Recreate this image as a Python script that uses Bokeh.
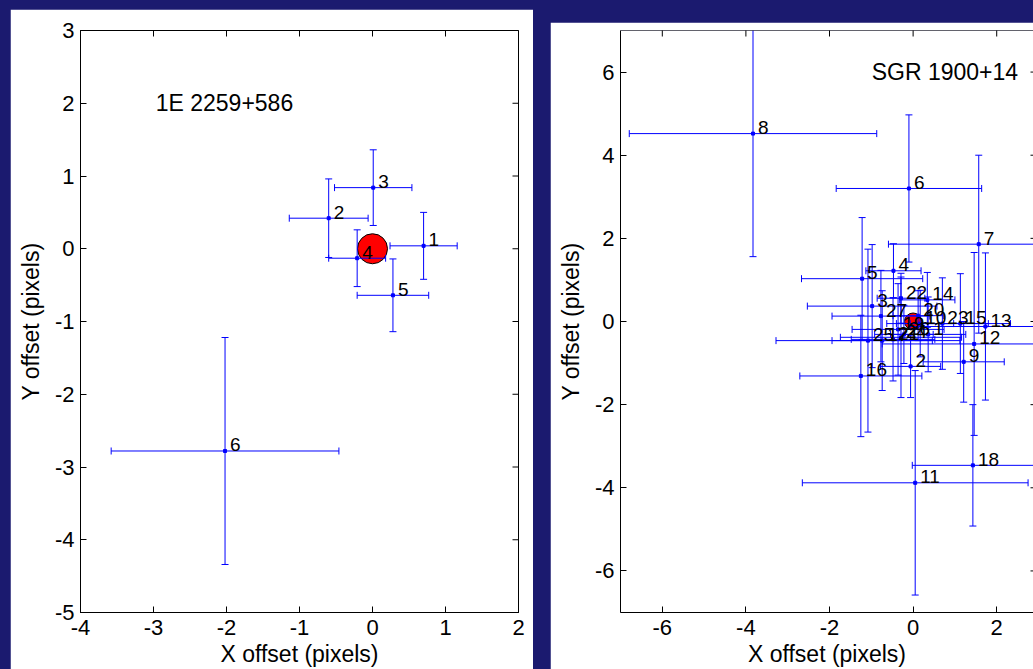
import math
from bokeh.plotting import figure
from bokeh.models import ColumnDataSource, FixedTicker, Range1d, Label, Span
from bokeh.layouts import row
from bokeh.embed import file_html
from bokeh.resources import INLINE
from bokeh.core.properties import value

# ---------------- data: left panel (1E 2259+586) ----------------
l_name = "1E 2259+586"
l_ids = ["1", "2", "3", "4", "5", "6"]
l_x = [0.70, -0.60, 0.01, -0.21, 0.28, -2.02]
l_y = [0.04, 0.42, 0.84, -0.13, -0.64, -2.78]
l_xerr = [0.46, 0.54, 0.53, 0.39, 0.49, 1.56]
l_yerr = [0.46, 0.54, 0.52, 0.39, 0.50, 1.56]
l_xticks = [-4, -3, -2, -1, 0, 1, 2]
l_xlabels = ["-4", "-3", "-2", "-1", "0", "1", "2"]
l_yticks = [-5, -4, -3, -2, -1, 0, 1, 2, 3]
l_ylabels = ["-5", "-4", "-3", "-2", "-1", "0", "1", "2", "3"]
l_ref_x = [0.0]
l_ref_y = [0.0]

# ---------------- data: right panel (SGR 1900+14) ----------------
r_name = "SGR 1900+14"
r_ids = ["1", "2", "3", "4", "5", "6", "7", "8", "9", "10", "11", "12", "13", "14",
         "15", "16", "17", "18", "19", "20", "21", "22", "23", "24", "25", "26", "27"]
r_x = [0.36, -0.06, -0.98, -0.47, -1.22, -0.10, 1.57, -3.83, 1.21, 0.17, 0.05, 1.46, 1.73, 0.34,
       1.13, -1.25, -0.74, 1.43, -0.36, 0.12, -0.48, -0.29, 0.70, -0.29, -1.08, -0.22, -0.77]
r_y = [-0.31, -1.08, 0.37, 1.22, 1.03, 3.20, 1.86, 4.52, -0.97, -0.05, -3.88, -0.54, -0.12, 0.52,
       -0.05, -1.31, -0.46, -3.46, -0.19, 0.14, -0.43, 0.56, -0.05, -0.38, -0.46, -0.31, 0.13]
r_xerr = [0.90, 0.72, 1.55, 0.66, 1.45, 1.74, 2.16, 2.96, 0.97, 0.80, 2.70, 2.20, 1.80, 0.66,
          1.20, 1.46, 1.20, 1.45, 1.10, 0.60, 1.00, 0.57, 1.10, 1.45, 2.20, 0.70, 1.17]
r_yerr = [0.90, 0.75, 1.48, 0.65, 1.47, 1.77, 2.14, 2.96, 0.97, 0.80, 2.70, 2.20, 1.77, 0.66,
          1.20, 1.46, 1.20, 1.46, 1.10, 0.60, 1.00, 0.60, 1.10, 1.45, 2.20, 0.70, 1.10]
r_xticks = [-6, -4, -2, 0, 2]
r_xlabels = ["-6", "-4", "-2", "0", "2"]
r_yticks = [-6, -4, -2, 0, 2, 4, 6]
r_ylabels = ["-6", "-4", "-2", "0", "2", "4", "6"]
r_ref_x = [0.0]
r_ref_y = [0.0]

NAVY = "#1b1a6f"
FONT = "Liberation Sans"
BLUE = "#0000ff"


def style_axis(ax, ticks, labels):
    ax.ticker = FixedTicker(ticks=ticks)
    ax.major_label_overrides = {t: s for t, s in zip(ticks, labels)}
    ax.minor_tick_line_color = None
    ax.major_tick_in = 6
    ax.major_tick_out = 0
    ax.major_tick_line_color = "black"
    ax.major_tick_line_width = 1
    ax.axis_line_color = "black"
    ax.axis_line_width = 1
    ax.major_label_text_font = FONT
    ax.major_label_text_color = "black"
    ax.major_label_text_font_size = "22px"
    ax.axis_label_text_font = FONT
    ax.axis_label_text_font_size = "23px"
    ax.axis_label_text_font_style = "normal"
    ax.axis_label_text_color = "black"


def make_panel(name, name_xy, ids, xs, ys, xe, ye, ref_x, ref_y, ref_size,
               xr, yr, xt, xl, yt, yl, width, height, borders, boxed, right_tick):
    p = figure(width=width, height=height, x_range=Range1d(*xr), y_range=Range1d(*yr),
               output_backend="svg", toolbar_location=None,
               min_border_left=borders[0], min_border_top=borders[1],
               min_border_right=borders[2], min_border_bottom=borders[3],
               background_fill_color="white", border_fill_color="white",
               x_axis_label="X offset (pixels)", y_axis_label="Y offset (pixels)")
    p.title.visible = False
    try:
        p.frame_align = False
    except Exception:
        pass
    p.outline_line_color = "black" if boxed else None
    p.xgrid.visible = False
    p.ygrid.visible = False

    style_axis(p.below[0], xt, xl)
    style_axis(p.left[0], yt, yl)
    p.below[0].major_label_standoff = 7
    p.below[0].axis_label_standoff = 3
    p.left[0].major_label_standoff = 6
    p.left[0].axis_label_standoff = 8

    if not boxed:
        p.add_layout(Span(location=yr[1], dimension="width", line_color="black", line_width=1))

    # inward tick marks on the top and right edges of the box
    p.scatter(x=xt, y=[yr[1]] * len(xt), marker="dash", angle=math.pi / 2, size=12,
              line_color="black", line_width=1)
    p.scatter(x=[xr[1]] * len(yt), y=yt, marker="dash", size=right_tick,
              line_color="black", line_width=1)

    src = ColumnDataSource(dict(
        x=xs, y=ys, id=ids,
        xl=[a - e for a, e in zip(xs, xe)], xu=[a + e for a, e in zip(xs, xe)],
        yl=[b - e for b, e in zip(ys, ye)], yu=[b + e for b, e in zip(ys, ye)],
    ))

    # reference position (red circle)
    p.scatter(x=ref_x, y=ref_y, marker="circle", size=ref_size,
              fill_color="#ff0000", line_color="black", line_width=1)

    # error bars
    p.segment(x0="xl", y0="y", x1="xu", y1="y", source=src, line_color=BLUE, line_width=1)
    p.segment(x0="x", y0="yl", x1="x", y1="yu", source=src, line_color=BLUE, line_width=1)
    for c in ("xl", "xu"):
        p.scatter(x=c, y="y", source=src, marker="dash", angle=math.pi / 2, size=7,
                  line_color=BLUE, line_width=1)
    for c in ("yl", "yu"):
        p.scatter(x="x", y=c, source=src, marker="dash", size=7,
                  line_color=BLUE, line_width=1)
    p.scatter(x="x", y="y", source=src, marker="square", size=3,
              fill_color=BLUE, line_color=BLUE)

    p.text(x="x", y="y", text="id", source=src, text_font=value(FONT),
           text_font_size="19px", text_color="black", text_align="left",
           text_baseline="middle", x_offset=5, y_offset=-6)

    p.add_layout(Label(x=name_xy[0], y=name_xy[1], text=name, text_font=FONT,
                       text_font_size="23px", text_color="black",
                       text_baseline="middle", text_align="left"))
    return p


p1 = make_panel(l_name, (-2.97, 2.0), l_ids, l_x, l_y, l_xerr, l_yerr,
                l_ref_x, l_ref_y, 30, (-4, 2), (-5, 3), l_xticks, l_xlabels,
                l_yticks, l_ylabels, 523, 660, (70, 21, 15, 55), True, 12)
p1.margin = (9, 0, 0, 10)

p2 = make_panel(r_name, (-0.99, 6.0), r_ids, r_x, r_y, r_xerr, r_yerr,
                r_ref_x, r_ref_y, 17, (-7, 2.88), (-7, 7), r_xticks, r_xlabels,
                r_yticks, r_ylabels, 483, 647, (70, 8, 0, 54), False, 6)
p2.margin = (22, 0, 0, 17)

page = row(p1, p2, styles={"background-color": NAVY})

open("out.html", "w").write(file_html(page, INLINE))
